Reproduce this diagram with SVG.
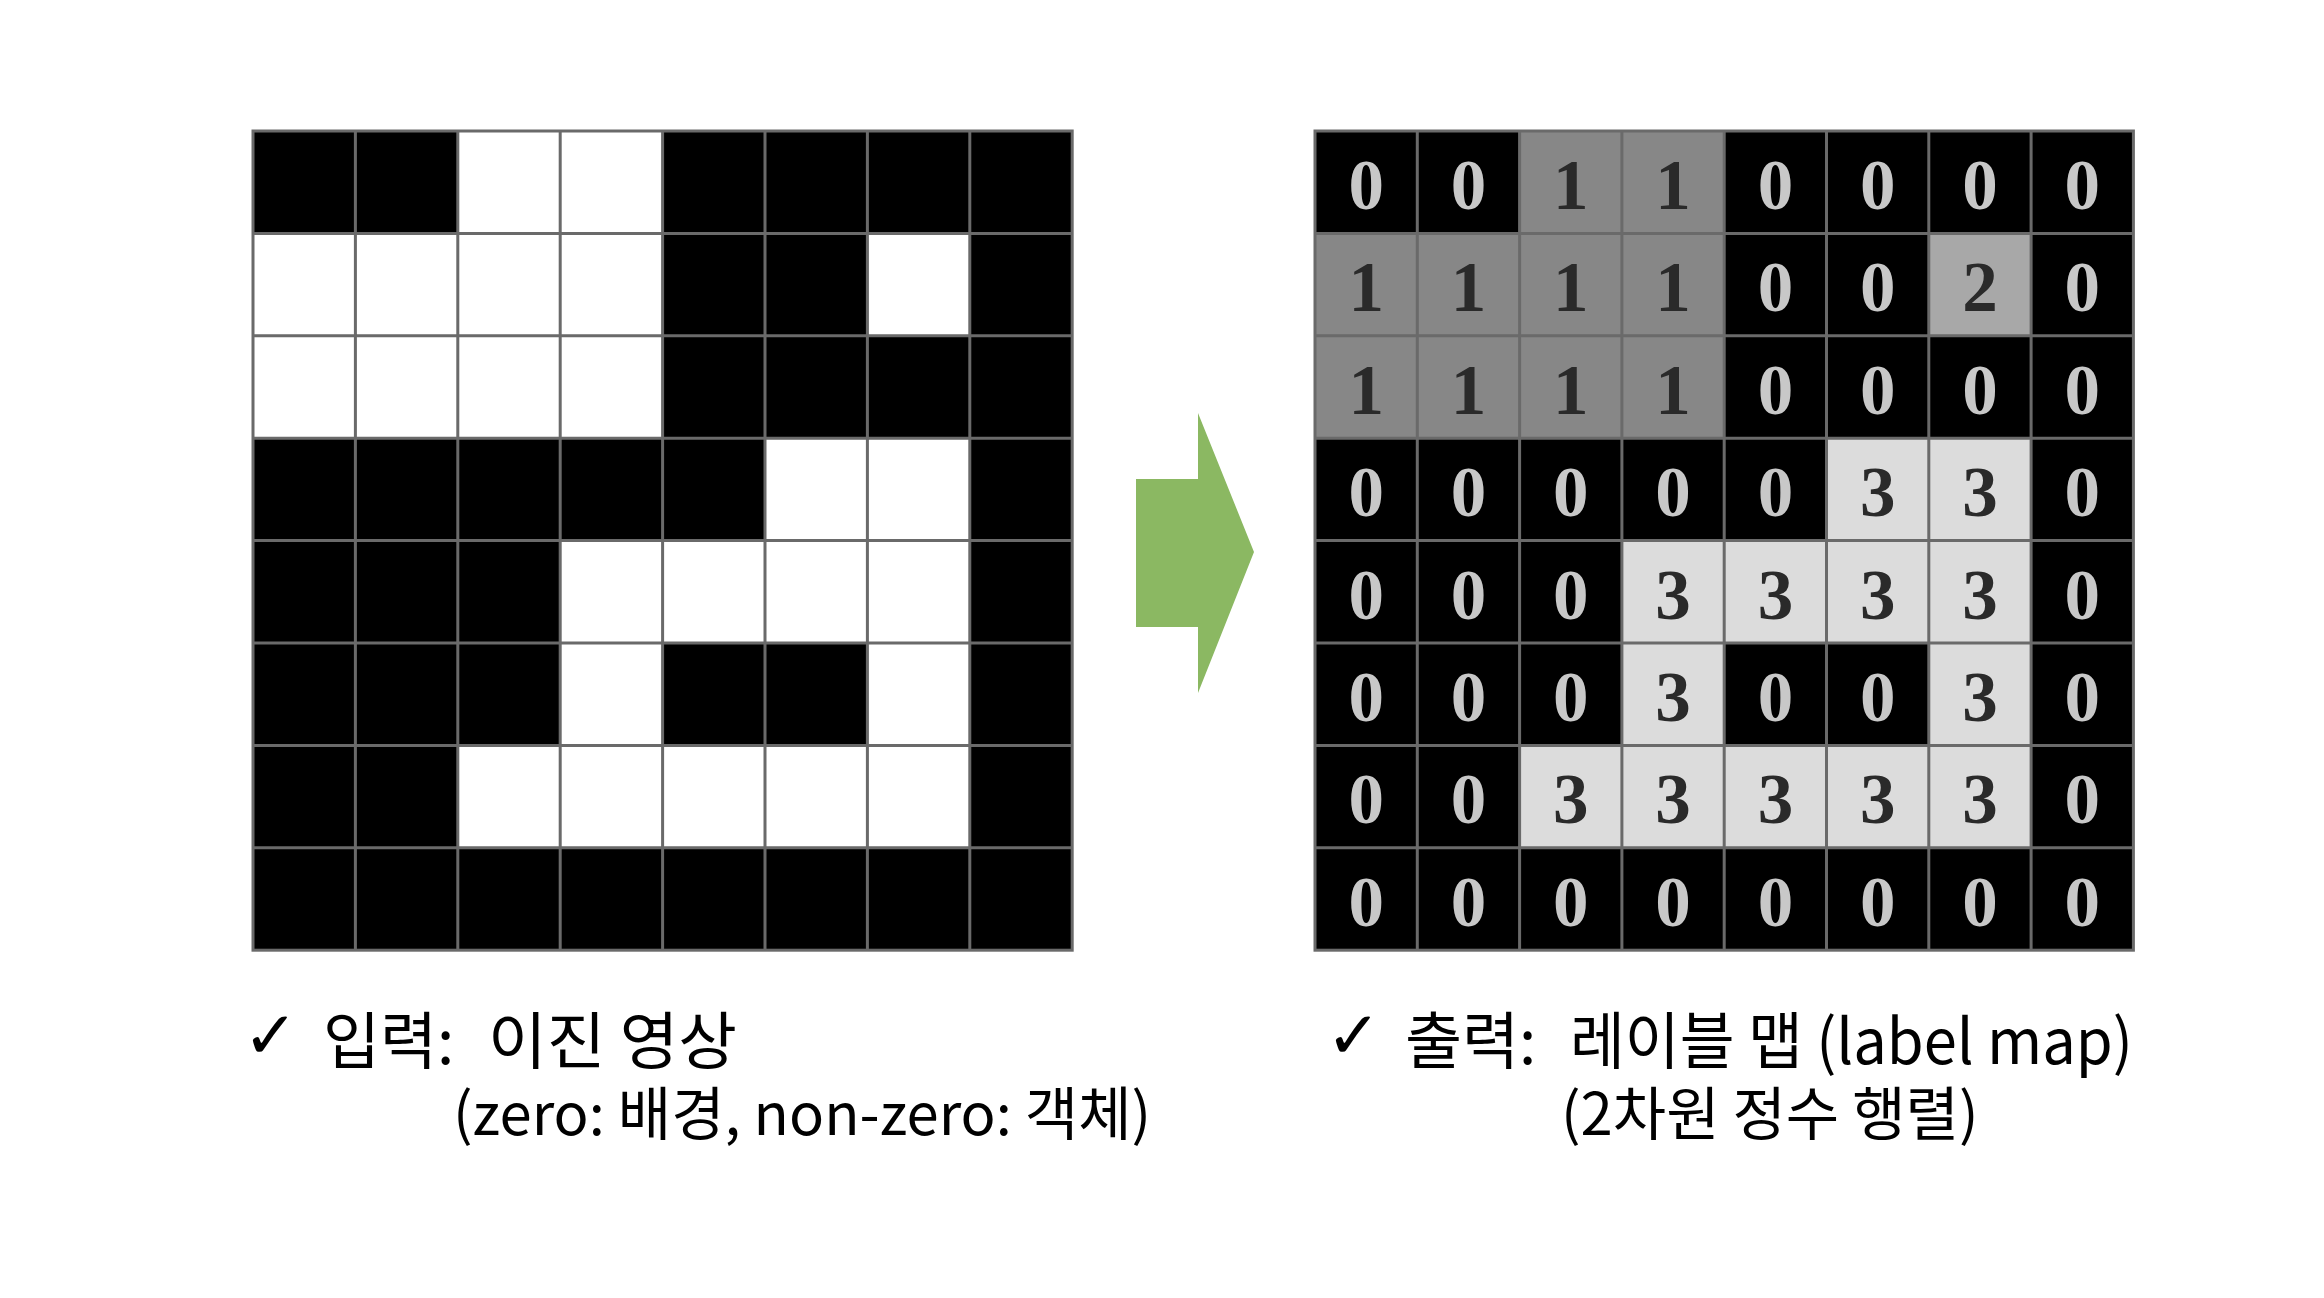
<svg xmlns="http://www.w3.org/2000/svg" width="2324" height="1298" viewBox="0 0 2324 1298">
<style>
.grid{fill:none;stroke:#6a6a6a;stroke-width:3}
.blk{fill:#000}
.wht{fill:#fff}
.g1{fill:#878787}
.g2{fill:#a8a8a8}
.g3{fill:#dcdcdc}
.dg{font-family:"Liberation Serif","Times New Roman",serif;font-weight:bold;font-size:71px;text-anchor:middle}
.z{fill:#c8c8c8}
.d{fill:#2a2a2a}
.cap{font-family:"Noto Sans CJK KR","Noto Sans",sans-serif;fill:#000}
.l1{font-size:62px}
.l2{font-size:58px}
.chk{font-family:"DejaVu Sans",sans-serif;font-size:66px;fill:#000}
</style>
<rect width="2324" height="1298" fill="#fff"/>

<g id="input-grid">
<rect class="blk" x="253" y="131" width="819.2" height="819.2"/>
<rect class="wht" x="457.8" y="131" width="204.8" height="102.4"/>
<rect class="wht" x="253" y="233.4" width="409.6" height="204.8"/>
<rect class="wht" x="867.4" y="233.4" width="102.4" height="102.4"/>
<rect class="wht" x="765" y="438.2" width="204.8" height="102.4"/>
<rect class="wht" x="560.2" y="540.6" width="409.6" height="102.4"/>
<rect class="wht" x="560.2" y="643" width="102.4" height="102.4"/>
<rect class="wht" x="867.4" y="643" width="102.4" height="102.4"/>
<rect class="wht" x="457.8" y="745.4" width="512" height="102.4"/>
<path class="grid" d="M355.4 131V950.2M457.8 131V950.2M560.2 131V950.2M662.6 131V950.2M765 131V950.2M867.4 131V950.2M969.8 131V950.2M253 233.4H1072.2M253 335.8H1072.2M253 438.2H1072.2M253 540.6H1072.2M253 643H1072.2M253 745.4H1072.2M253 847.8H1072.2"/>
<rect class="grid" x="253" y="131" width="819.2" height="819.2"/>
</g>

<g id="connectors">
<polygon points="1136,479 1198,479 1198,413 1254,552 1198,693 1198,627 1136,627" fill="#8bb862"/>
</g>

<g id="label-grid">
<rect class="blk" x="1315" y="131" width="818.4" height="819.2"/>
<rect class="g1" x="1519.6" y="131" width="204.6" height="102.4"/>
<rect class="g1" x="1315" y="233.4" width="409.2" height="204.8"/>
<rect class="g2" x="1928.8" y="233.4" width="102.3" height="102.4"/>
<rect class="g3" x="1826.5" y="438.2" width="204.6" height="102.4"/>
<rect class="g3" x="1621.9" y="540.6" width="409.2" height="102.4"/>
<rect class="g3" x="1621.9" y="643" width="102.3" height="102.4"/>
<rect class="g3" x="1928.8" y="643" width="102.3" height="102.4"/>
<rect class="g3" x="1519.6" y="745.4" width="511.5" height="102.4"/>
<path class="grid" d="M1417.3 131V950.2M1519.6 131V950.2M1621.9 131V950.2M1724.2 131V950.2M1826.5 131V950.2M1928.8 131V950.2M2031.1 131V950.2M1315 233.4H2133.4M1315 335.8H2133.4M1315 438.2H2133.4M1315 540.6H2133.4M1315 643H2133.4M1315 745.4H2133.4M1315 847.8H2133.4"/>
<rect class="grid" x="1315" y="131" width="818.4" height="819.2"/>
<g class="dg">
<text class="z" x="1366.2" y="209">0</text><text class="z" x="1468.5" y="209">0</text><text class="d" x="1570.8" y="209">1</text><text class="d" x="1673.1" y="209">1</text><text class="z" x="1775.4" y="209">0</text><text class="z" x="1877.7" y="209">0</text><text class="z" x="1980" y="209">0</text><text class="z" x="2082.3" y="209">0</text>
<text class="d" x="1366.2" y="311.4">1</text><text class="d" x="1468.5" y="311.4">1</text><text class="d" x="1570.8" y="311.4">1</text><text class="d" x="1673.1" y="311.4">1</text><text class="z" x="1775.4" y="311.4">0</text><text class="z" x="1877.7" y="311.4">0</text><text class="d" x="1980" y="311.4">2</text><text class="z" x="2082.3" y="311.4">0</text>
<text class="d" x="1366.2" y="413.8">1</text><text class="d" x="1468.5" y="413.8">1</text><text class="d" x="1570.8" y="413.8">1</text><text class="d" x="1673.1" y="413.8">1</text><text class="z" x="1775.4" y="413.8">0</text><text class="z" x="1877.7" y="413.8">0</text><text class="z" x="1980" y="413.8">0</text><text class="z" x="2082.3" y="413.8">0</text>
<text class="z" x="1366.2" y="516.2">0</text><text class="z" x="1468.5" y="516.2">0</text><text class="z" x="1570.8" y="516.2">0</text><text class="z" x="1673.1" y="516.2">0</text><text class="z" x="1775.4" y="516.2">0</text><text class="d" x="1877.7" y="516.2">3</text><text class="d" x="1980" y="516.2">3</text><text class="z" x="2082.3" y="516.2">0</text>
<text class="z" x="1366.2" y="618.6">0</text><text class="z" x="1468.5" y="618.6">0</text><text class="z" x="1570.8" y="618.6">0</text><text class="d" x="1673.1" y="618.6">3</text><text class="d" x="1775.4" y="618.6">3</text><text class="d" x="1877.7" y="618.6">3</text><text class="d" x="1980" y="618.6">3</text><text class="z" x="2082.3" y="618.6">0</text>
<text class="z" x="1366.2" y="721">0</text><text class="z" x="1468.5" y="721">0</text><text class="z" x="1570.8" y="721">0</text><text class="d" x="1673.1" y="721">3</text><text class="z" x="1775.4" y="721">0</text><text class="z" x="1877.7" y="721">0</text><text class="d" x="1980" y="721">3</text><text class="z" x="2082.3" y="721">0</text>
<text class="z" x="1366.2" y="823.4">0</text><text class="z" x="1468.5" y="823.4">0</text><text class="d" x="1570.8" y="823.4">3</text><text class="d" x="1673.1" y="823.4">3</text><text class="d" x="1775.4" y="823.4">3</text><text class="d" x="1877.7" y="823.4">3</text><text class="d" x="1980" y="823.4">3</text><text class="z" x="2082.3" y="823.4">0</text>
<text class="z" x="1366.2" y="925.8">0</text><text class="z" x="1468.5" y="925.8">0</text><text class="z" x="1570.8" y="925.8">0</text><text class="z" x="1673.1" y="925.8">0</text><text class="z" x="1775.4" y="925.8">0</text><text class="z" x="1877.7" y="925.8">0</text><text class="z" x="1980" y="925.8">0</text><text class="z" x="2082.3" y="925.8">0</text>
</g>
</g>

<g id="caption-left">
<text class="chk" x="243" y="1058">✓</text>
<text class="cap l1" x="323" y="1064">입력:</text>
<text class="cap l1" x="488" y="1064" textLength="249" lengthAdjust="spacingAndGlyphs">이진 영상</text>
<text class="cap l2" x="453" y="1135">(zero: 배경, non-zero: 객체)</text>
</g>

<g id="caption-right">
<text class="chk" x="1326" y="1058">✓</text>
<text class="cap l1" x="1405" y="1064">출력:</text>
<text class="cap l1" x="1570" y="1064" textLength="563" lengthAdjust="spacingAndGlyphs">레이블 맵 (label map)</text>
<text class="cap l2" x="1561" y="1135">(2차원 정수 행렬)</text>
</g>
</svg>
